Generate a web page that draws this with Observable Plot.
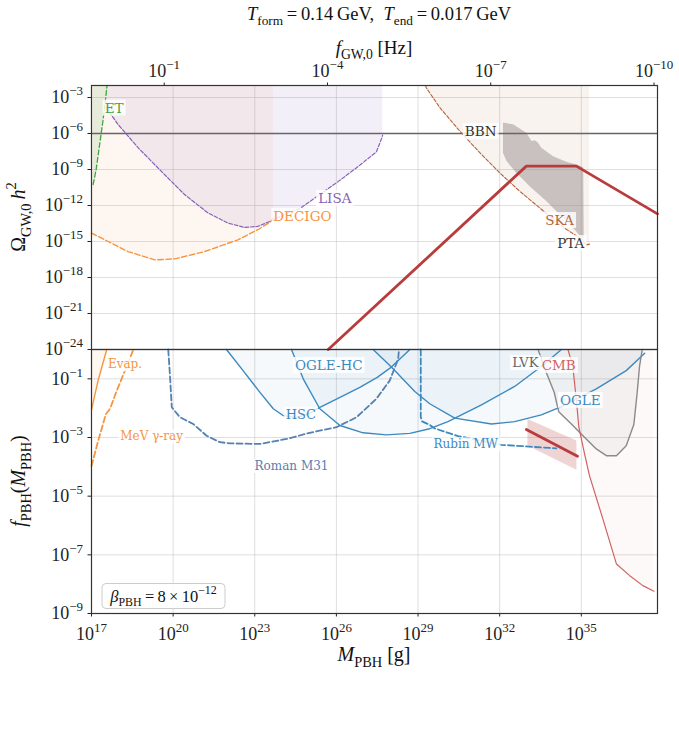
<!DOCTYPE html>
<html><head><meta charset="utf-8">
<script src="https://cdn.jsdelivr.net/npm/d3@7"></script>
<script src="https://cdn.jsdelivr.net/npm/@observablehq/plot@0.6"></script>
<style>
body{margin:0;background:#fff;}
#wrap{position:relative;width:679px;height:730px;overflow:hidden;background:#fff}
#wrap svg{position:absolute;left:0;overflow:visible}
</style></head><body><div id="wrap"></div>
<script>
// ---------- data: pairs of [log10(M_PBH / g), log10(value)] ----------
// top panel: Omega_GW,0 h^2
const etCurve = [[17.06,-10.25],[17.12,-9.6],[17.18,-8.86],[17.3,-6.9],[17.42,-4.96],[17.51,-3.28],[17.57,-2.0]];
const decigoCurve = [[17.0,-14.3],[17.61,-15.0],[18.34,-15.84],[19.32,-16.53],[20.06,-16.45],[21.16,-15.84],[22.38,-14.86],[23.11,-14.02],[23.6,-13.33],[23.68,-13.0]];
const lisaCurve = [[17.54,-3.84],[17.97,-5.23],[18.71,-7.18],[19.56,-9.14],[20.42,-11.09],[21.28,-12.62],[22.01,-13.46],[22.63,-13.83],[23.11,-13.74],[23.55,-13.33],[24.17,-12.67],[24.66,-12.25],[26.13,-9.9],[26.86,-8.64],[27.47,-7.53],[27.66,-6.42],[27.7,-6.14]];
const skaCurve = [[29.27,-2.0],[29.31,-2.22],[29.8,-3.84],[30.53,-5.79],[31.27,-7.6],[32.0,-9.28],[32.74,-10.82],[33.47,-12.2],[34.2,-13.6],[34.94,-14.72],[35.19,-15.28],[35.3,-15.22]];
const ptaRegion = [[32.12,-5.09],[32.49,-5.23],[32.98,-5.93],[33.17,-6.63],[33.29,-6.57],[33.41,-6.77],[33.53,-7.18],[33.96,-7.89],[34.45,-8.36],[34.82,-8.58],[35.07,-8.81],[35.09,-15.0],[34.82,-14.16],[34.33,-13.04],[33.72,-11.65],[33.1,-10.4],[32.61,-9.28],[32.25,-8.3],[32.12,-7.6]];
const bbnLimit = [-6];
const gwSignal = [[25.70,-24],[32.98,-8.72],[34.82,-8.72],[37.8,-12.7]];

// bottom panel: f_PBH(M_PBH)
const evapBound = [[17.0,-2.06],[17.25,-1.03],[17.56,0]];
const mevGamma = [[17.0,-3.97],[17.25,-3.1],[17.53,-2.2],[17.68,-2.02],[17.93,-1.4],[18.23,-0.72],[18.54,0]];
const romanM31 = [[19.82,0],[19.88,-0.83],[19.95,-1.97],[20.25,-2.31],[20.74,-2.54],[21.23,-2.94],[21.72,-3.16],[22.09,-3.2],[23.19,-3.22],[24.17,-3.05],[25.02,-2.84],[26.0,-2.65],[26.74,-2.31],[27.47,-1.68],[27.96,-1.06],[28.27,-0.32],[28.3,0]];
const rubinMW = [[29.1,0],[29.1,-2.3],[29.15,-2.45],[29.43,-2.57],[29.61,-2.69],[30.47,-2.95],[32.06,-3.25],[34.08,-3.37]];
const hscBound = [[21.96,0],[22.57,-0.72],[23.19,-1.46],[23.68,-2.02],[24.04,-2.25],[24.5,-2.32],[24.95,-2.2],[25.39,-1.97],[26.13,-1.63],[26.86,-1.29],[27.5,-0.95],[28.02,-0.6],[28.7,0]];
const ogleHCBound = [[24.35,0],[24.78,-1.0],[25.39,-2.02],[26.13,-2.59],[26.98,-2.84],[27.84,-2.91],[28.7,-2.86],[29.43,-2.7],[30.1,-2.46],[31.33,-1.89],[32.55,-1.26],[33.53,-0.58],[34.27,0]];
const ogleBound = [[27.35,0],[28.02,-0.6],[28.88,-1.43],[29.43,-1.85],[30.35,-2.34],[31.7,-2.54],[32.55,-2.46],[33.53,-2.23],[34.27,-1.95],[35.55,-1.34],[36.65,-0.72],[37.33,-0.13]];
const lvkBound = [[33.41,0],[33.72,-0.8],[34.0,-1.45],[34.17,-2.12],[34.57,-2.48],[35.06,-2.94],[35.55,-3.39],[35.92,-3.62],[36.29,-3.62],[36.65,-3.28],[36.93,-2.56],[37.05,-1.5],[37.14,-0.57],[37.24,0]];
const cmbBound = [[34.51,0],[34.69,-0.6],[34.82,-1.74],[34.91,-2.65],[35.12,-3.56],[35.3,-4.3],[35.8,-5.8],[36.29,-7.31],[36.78,-7.71],[37.26,-8.05],[37.67,-8.24]];
const modelBand = [[33.02,-2.37],[34.82,-3.1],[34.82,-4.1],[33.02,-3.27]];
const modelLine = [[32.98,-2.73],[34.86,-3.64]];

// ticks (exponents)
const xTickExp = [17,20,23,26,29,32,35];
const topYTickExp = [-3,-6,-9,-12,-15,-18,-21,-24];
const botYTickExp = [-1,-3,-5,-7,-9];
const fTickExp = [-1,-4,-7,-10];
const fRefExp = 0.336;   // log10 f_GW,0 [Hz] at M = 1e17 g ; f ∝ M^(-1/2)

const C = {et:"#3ea53e", decigo:"#f8923b", lisa:"#8762b8", ska:"#b4643c", pta:"#8d8682",
  bbn:"#666666", red:"#b83c3c", blue:"#3c89c0", roman:"#5680b0", evap:"#f5963f",
  lvk:"#8a8a8a", cmb:"#d26262", dark:"#333333"};

const topLabels = [
  {t:"ET", m:17.83, v:-3.9, c:C.et, s:13.5},
  {t:"LISA", m:25.94, v:-11.43, c:C.lisa, s:13.5},
  {t:"DECIGO", m:24.75, v:-12.92, c:C.decigo, s:13.5},
  {t:"BBN", m:31.3, v:-5.86, c:C.dark, s:13.5},
  {t:"SKA", m:34.2, v:-13.27, c:C.ska, s:13.5},
  {t:"PTA", m:34.61, v:-15.19, c:C.dark, s:13.5}
];
const botLabels = [
  {t:"Evap.", m:18.23, v:-0.51, c:C.evap, s:12},
  {t:"MeV γ-ray", m:19.21, v:-2.97, c:C.evap, s:12},
  {t:"HSC", m:24.69, v:-2.22, c:C.blue, s:13},
  {t:"OGLE-HC", m:25.72, v:-0.55, c:C.blue, s:13.5},
  {t:"Roman M31", m:24.35, v:-3.98, c:C.roman, s:12},
  {t:"Rubin MW", m:30.75, v:-3.24, c:C.blue, s:12},
  {t:"LVK", m:32.94, v:-0.46, c:"#666666", s:13},
  {t:"CMB", m:34.17, v:-0.55, c:C.cmb, s:13.5},
  {t:"OGLE", m:34.96, v:-1.74, c:C.blue, s:13.5}
];

// ---------- helpers ----------
const mk = a => a.map(([m, v]) => ({M: 10 ** m, v: 10 ** v}));
const mkL = a => a.map(d => ({...d, M: 10 ** d.m, v: 10 ** d.v}));
const ex = e => (e < 0 ? "\u2212" + (-e) : "" + e);
const supFmt = d => "10^" + ex(Math.round(Math.log10(d)));
const fFmt = d => "10^" + ex(Math.round(fRefExp - (Math.log10(d) - 17) / 2));
const xTicks = xTickExp.map(e => 10 ** e);
const topYTicks = topYTickExp.map(e => 10 ** e);
const botYTicks = botYTickExp.map(e => 10 ** e);
const fTickM = fTickExp.map(e => 10 ** (17 + 2 * (fRefExp - e)));
const xDomain = [1e17, 10 ** 37.8];
const W = 679, ML = 91, MR = 22, TFS = 18;
const gridStyle = {stroke: "#b8b8b8", strokeOpacity: 0.5, strokeWidth: 0.9};
const baseStyle = {fontFamily: "'Liberation Serif', serif", fontSize: TFS + "px", color: "#222", background: "transparent", overflow: "visible"};
const labelSet = new Set([...topLabels, ...botLabels].map(d => d.t));

// ---------- top panel ----------
const topPlot = Plot.plot({
  width: W, height: 349, marginLeft: ML, marginRight: MR, marginTop: 85, marginBottom: 0,
  x: {type: "log", domain: xDomain},
  y: {type: "log", domain: [1e-24, 1e-2]},
  style: baseStyle,
  marks: [
    Plot.gridX(xTicks, gridStyle),
    Plot.gridY(topYTicks, gridStyle),
    Plot.areaY(mk(decigoCurve), {x: "M", y1: "v", y2: 1e-2, fill: C.decigo, fillOpacity: 0.08}),
    Plot.areaY(mk(lisaCurve), {x: "M", y1: "v", y2: 1e-2, fill: C.lisa, fillOpacity: 0.1}),
    Plot.areaY(mk(etCurve), {x: "M", y1: "v", y2: 1e-2, fill: C.et, fillOpacity: 0.12}),
    Plot.areaY(mk(skaCurve), {x: "M", y1: "v", y2: 1e-2, fill: C.ska, fillOpacity: 0.08}),
    Plot.line(mk(ptaRegion), {x: "M", y: "v", fill: C.pta, fillOpacity: 0.45, stroke: "none"}),
    Plot.ruleY(bbnLimit.map(e => 10 ** e), {stroke: C.bbn, strokeWidth: 1.6}),
    Plot.line(mk(etCurve), {x: "M", y: "v", stroke: C.et, strokeWidth: 1.3, strokeDasharray: "5,2.5"}),
    Plot.line(mk(decigoCurve), {x: "M", y: "v", stroke: C.decigo, strokeWidth: 1.4, strokeDasharray: "5.5,2.5"}),
    Plot.line(mk(lisaCurve), {x: "M", y: "v", stroke: C.lisa, strokeWidth: 1.2, strokeDasharray: "3.7,1.8"}),
    Plot.line(mk(skaCurve), {x: "M", y: "v", stroke: C.ska, strokeWidth: 1.1, strokeDasharray: "3.5,1.8"}),
    Plot.line(mk(gwSignal), {x: "M", y: "v", stroke: C.red, strokeWidth: 2.8}),
    Plot.text(mkL(topLabels), {x: "M", y: "v", text: "t", fill: "c", fontSize: "s", fontFamily: "'DejaVu Serif', serif"}),
    Plot.axisY(topYTicks, {anchor: "left", tickSize: 3.5, tickPadding: 5, tickFormat: supFmt, label: null}),
    Plot.axisX(fTickM, {anchor: "top", tickSize: 3.5, tickPadding: 5, tickFormat: fFmt, label: null}),
    Plot.frame({stroke: "#333", strokeWidth: 1.2})
  ]
});

// ---------- bottom panel ----------
const botPlot = Plot.plot({
  width: W, height: 335, marginLeft: ML, marginRight: MR, marginTop: 1, marginBottom: 70,
  x: {type: "log", domain: xDomain},
  y: {type: "log", domain: [1e-9, 1]},
  style: baseStyle,
  marks: [
    Plot.gridX(xTicks, gridStyle),
    Plot.gridY(botYTicks, gridStyle),
    Plot.areaY(mk(evapBound), {x: "M", y1: "v", y2: 1, fill: C.evap, fillOpacity: 0.08}),
    Plot.areaY(mk(hscBound), {x: "M", y1: "v", y2: 1, fill: C.blue, fillOpacity: 0.05}),
    Plot.areaY(mk(ogleHCBound), {x: "M", y1: "v", y2: 1, fill: C.blue, fillOpacity: 0.05}),
    Plot.areaY(mk(ogleBound), {x: "M", y1: "v", y2: 1, fill: C.blue, fillOpacity: 0.05}),
    Plot.areaY(mk(lvkBound), {x: "M", y1: "v", y2: 1, fill: C.lvk, fillOpacity: 0.08}),
    Plot.areaY(mk(cmbBound), {x: "M", y1: "v", y2: 1, fill: C.cmb, fillOpacity: 0.035}),
    Plot.line(mk(modelBand), {x: "M", y: "v", fill: C.red, fillOpacity: 0.22, stroke: "none"}),
    Plot.line(mk(evapBound), {x: "M", y: "v", stroke: C.evap, strokeWidth: 1.4}),
    Plot.line(mk(mevGamma), {x: "M", y: "v", stroke: C.evap, strokeWidth: 1.8, strokeDasharray: "6,3"}),
    Plot.line(mk(romanM31), {x: "M", y: "v", stroke: C.roman, strokeWidth: 1.8, strokeDasharray: "6,3"}),
    Plot.line(mk(rubinMW), {x: "M", y: "v", stroke: C.blue, strokeWidth: 1.8, strokeDasharray: "6,3"}),
    Plot.line(mk(hscBound), {x: "M", y: "v", stroke: C.blue, strokeWidth: 1.4}),
    Plot.line(mk(ogleHCBound), {x: "M", y: "v", stroke: C.blue, strokeWidth: 1.4}),
    Plot.line(mk(ogleBound), {x: "M", y: "v", stroke: C.blue, strokeWidth: 1.4}),
    Plot.line(mk(lvkBound), {x: "M", y: "v", stroke: C.lvk, strokeWidth: 1.4}),
    Plot.line(mk(cmbBound), {x: "M", y: "v", stroke: C.cmb, strokeWidth: 1.2}),
    Plot.line(mk(modelLine), {x: "M", y: "v", stroke: C.red, strokeWidth: 2.8}),
    Plot.text(mkL(botLabels), {x: "M", y: "v", text: "t", fill: "c", fontSize: "s", fontFamily: "'DejaVu Serif', serif"}),
    Plot.axisY(botYTicks, {anchor: "left", tickSize: 3.5, tickPadding: 5, tickFormat: supFmt, label: null}),
    Plot.axisX(xTicks, {anchor: "bottom", tickSize: 3.5, tickPadding: 10, tickFormat: supFmt, label: null}),
    Plot.frame({stroke: "#333", strokeWidth: 1.2})
  ]
});

const wrap = document.getElementById("wrap");
topPlot.style.top = "0px";
botPlot.style.top = "348px";
wrap.appendChild(topPlot);
wrap.appendChild(botPlot);

// ---------- rich text helpers ----------
function rich(sel, parts, fs) {
  let shift = 0;
  parts.forEach(p => {
    const ts = sel.append("tspan").text(p.t);
    const target = p.sub ? 0.28 * fs : p.sup ? -0.45 * fs : 0;
    const dy = target - shift;
    if (dy) ts.attr("dy", dy);
    shift = target;
    if (p.sub || p.sup) ts.attr("font-size", 0.72 * fs);
    if (p.it) ts.attr("font-style", "italic");
  });
}
function supify(svg) {
  d3.select(svg).selectAll("text").each(function () {
    const t = d3.select(this);
    const s = t.text();
    if (!/^10\^/.test(s)) return;
    const [b, e] = s.split("^");
    t.text(null);
    rich(t, [{t: b}, {t: e, sup: true}], TFS);
  });
}
function boxes(svg) {
  d3.select(svg).selectAll("text").filter(function () { return labelSet.has(this.textContent); }).each(function () {
    const b = this.getBBox();
    const r = document.createElementNS("http://www.w3.org/2000/svg", "rect");
    r.setAttribute("x", b.x - 2);
    r.setAttribute("y", b.y);
    r.setAttribute("width", b.width + 4);
    r.setAttribute("height", b.height);
    r.setAttribute("fill", "#ffffff");
    r.setAttribute("fill-opacity", "0.82");
    r.setAttribute("stroke", "none");
    const tr = this.getAttribute("transform");
    if (tr) r.setAttribute("transform", tr);
    this.parentNode.insertBefore(r, this);
  });
}
supify(topPlot); supify(botPlot);
boxes(topPlot); boxes(botPlot);

function addText(svg, x, y, parts, fs, rotate) {
  const t = d3.select(svg).append("text")
    .attr("text-anchor", "middle")
    .attr("font-family", "'Liberation Serif', serif")
    .attr("font-size", fs)
    .attr("fill", "#111");
  if (rotate) t.attr("transform", `translate(${x},${y}) rotate(-90)`);
  else t.attr("x", x).attr("y", y);
  rich(t, parts, fs);
  return t;
}
// title
addText(topPlot, 379, 20, [
  {t: "T", it: true}, {t: "form", sub: true}, {t: "\u2009=\u20090.14\u2009GeV,\u2002"},
  {t: "T", it: true}, {t: "end", sub: true}, {t: "\u2009=\u20090.017\u2009GeV"}], 18.5);
// top axis label
addText(topPlot, 374, 54, [{t: "f", it: true}, {t: "GW,0", sub: true}, {t: " [Hz]"}], 19);
// left labels
addText(topPlot, 25, 217, [{t: "Ω"}, {t: "GW,0", sub: true}, {t: "\u2009"}, {t: "h", it: true}, {t: "2", sup: true}], 20, true);
addText(botPlot, 25, 133, [{t: "f", it: true}, {t: "PBH", sub: true}, {t: "("}, {t: "M", it: true}, {t: "PBH", sub: true}, {t: ")"}], 20, true);
// bottom axis label
addText(botPlot, 374, 313, [{t: "M", it: true}, {t: "PBH", sub: true}, {t: " [g]"}], 20);

// legend box
const lg = d3.select(botPlot).append("g");
lg.append("rect").attr("x", 102).attr("y", 235.5).attr("width", 123).attr("height", 25)
  .attr("rx", 4).attr("fill", "white").attr("fill-opacity", 0.85).attr("stroke", "#cccccc");
addText(botPlot, 163.5, 253.5, [{t: "β", it: true}, {t: "PBH", sub: true}, {t: "\u2009=\u20098\u2009×\u200910"}, {t: "\u221212", sup: true}], 16.5);
</script></body></html>
